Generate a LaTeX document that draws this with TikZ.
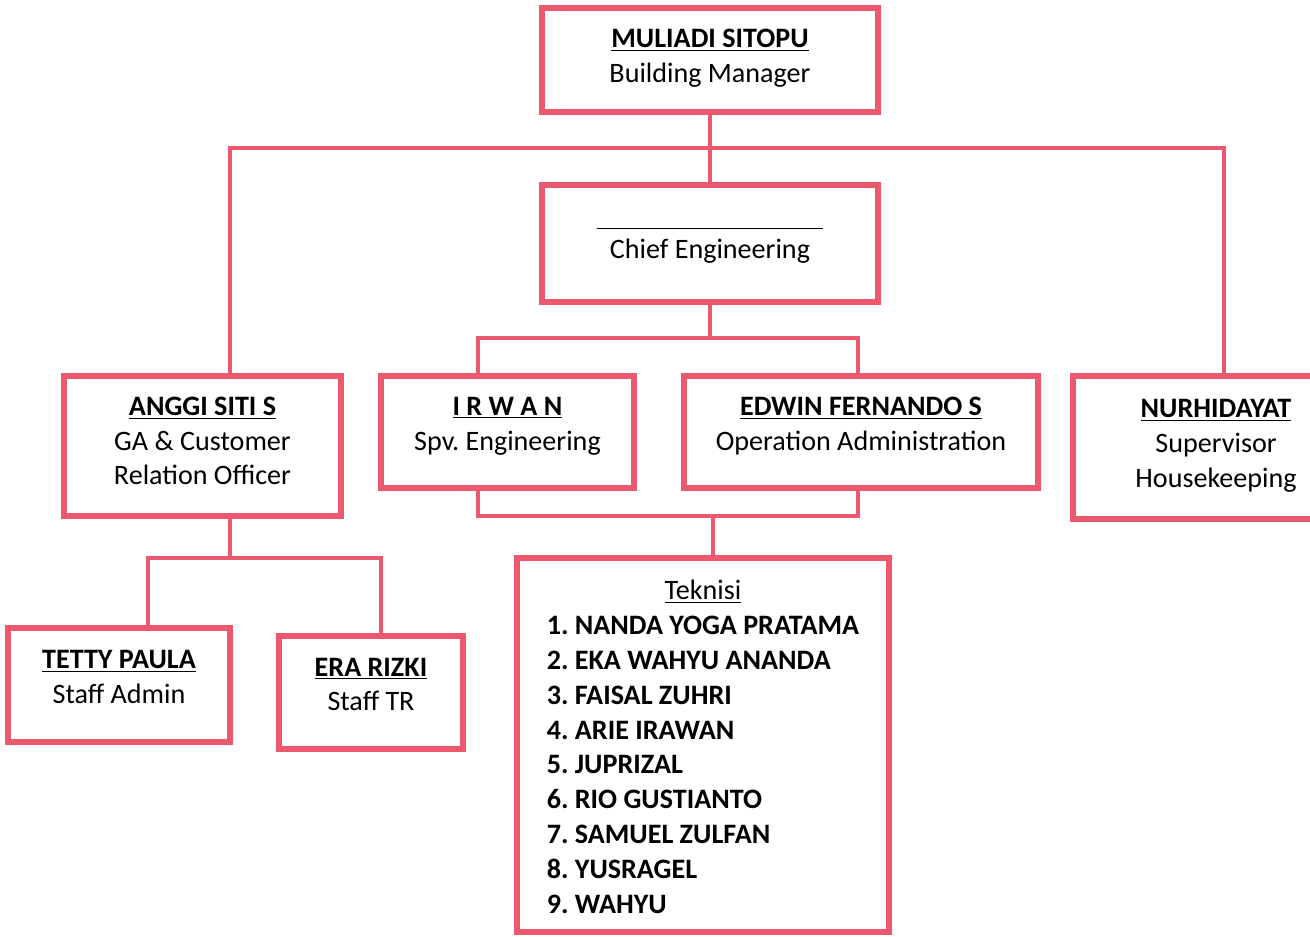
\documentclass[tikz,border=0pt]{standalone}
\usepackage{fontspec}
\setmainfont{Carlito}
\usetikzlibrary{positioning}
\definecolor{orgpink}{RGB}{236,88,110}

\begin{document}
\frenchspacing
\begin{tikzpicture}[
  x=0.02cm, y=-0.02cm,
  box/.style={rectangle, draw=orgpink, line width=3pt, line join=miter, fill=white, inner sep=0pt},
  txt/.style={align=center, yshift=0.12cm},
  link/.style={draw=orgpink, line width=2.6pt},
  font=\fontsize{16}{19.85}\selectfont
]
  \useasboundingbox (0,0) rectangle (1310,936);

  % Boxes
  \node[box, minimum width=6.72cm, minimum height=2.08cm,
    label={[txt, yshift=-0.08cm]center:{\textbf{\underline{MULIADI SITOPU}}\\Building Manager}}] (muliadi) at (710,60) {};
  \node[box, minimum width=6.72cm, minimum height=2.34cm,
    label={[txt, yshift=-0.14cm]center:{\underline{\hspace{4.54cm}}\\[-1pt]Chief Engineering}}] (chief) at (710,243.5) {};
  \node[box, minimum width=5.54cm, minimum height=2.80cm,
    label={[txt, yshift=-0.02cm]center:{\textbf{\underline{ANGGI SITI S}}\\GA \& Customer\\Relation Officer}}] (anggi) at (202.5,446) {};
  \node[box, minimum width=5.06cm, minimum height=2.24cm,
    label={[txt]center:{\textbf{\underline{I R W A N}}\\Spv. Engineering}}] (irwan) at (507.5,432) {};
  \node[box, minimum width=7.08cm, minimum height=2.24cm,
    label={[txt]center:{\textbf{\underline{EDWIN FERNANDO S}}\\Operation Administration}}] (edwin) at (861,432) {};
  \node[box, minimum width=5.72cm, minimum height=2.86cm,
    label={[txt, yshift=-0.08cm]center:{\textbf{\underline{NURHIDAYAT}}\\Supervisor\\Housekeeping}}] (nurhid) at (1216,447.5) {};
  \node[box, minimum width=4.44cm, minimum height=2.28cm,
    label={[txt, yshift=0.04cm]center:{\textbf{\underline{TETTY PAULA}}\\Staff Admin}}] (tetty) at (119,685) {};
  \node[box, minimum width=3.68cm, minimum height=2.26cm,
    label={[txt, yshift=0.04cm]center:{\textbf{\underline{ERA RIZKI}}\\Staff TR}}] (era) at (371,692.5) {};
  \node[box, minimum width=7.44cm, minimum height=7.48cm,
    label={[txt, yshift=-0.21cm]center:{%
    \begin{tabular}{@{}l@{}}
      \multicolumn{1}{c}{\underline{Teknisi}}\\
      \textbf{1. NANDA YOGA PRATAMA}\\
      \textbf{2. EKA WAHYU ANANDA}\\
      \textbf{3. FAISAL ZUHRI}\\
      \textbf{4. ARIE IRAWAN}\\
      \textbf{5. JUPRIZAL}\\
      \textbf{6. RIO GUSTIANTO}\\
      \textbf{7. SAMUEL ZULFAN}\\
      \textbf{8. YUSRAGEL}\\
      \textbf{9. WAHYU}
    \end{tabular}}}] (teknisi) at (703,745) {};

  % Junctions
  \coordinate (busl) at (230,148);
  \coordinate (busr) at (1224,148);
  \coordinate (engl) at (478,338);
  \coordinate (engr) at (858,338);
  \coordinate (tekl) at (478,516);
  \coordinate (tekr) at (858,516);
  \coordinate (tekm) at (713,516);
  \coordinate (staffl) at (148,558);
  \coordinate (staffr) at (381,558);

  % Connectors
  \draw[link] (muliadi.south) -- (chief.north);
  \draw[link] (busl |- anggi.north) -- (busl) -- (busr) -- (busr |- nurhid.north);
  \draw[link] (chief.south) -- (chief.south |- engl);
  \draw[link] (engl |- irwan.north) -- (engl) -- (engr) -- (engr |- edwin.north);
  \draw[link] (tekl |- irwan.south) -- (tekl) -- (tekr) -- (tekr |- edwin.south);
  \draw[link] (tekm) -- (tekm |- teknisi.north);
  \draw[link] (busl |- anggi.south) -- (busl |- staffl);
  \draw[link] (staffl |- tetty.north) -- (staffl) -- (staffr) -- (staffr |- era.north);
\end{tikzpicture}
\end{document}
